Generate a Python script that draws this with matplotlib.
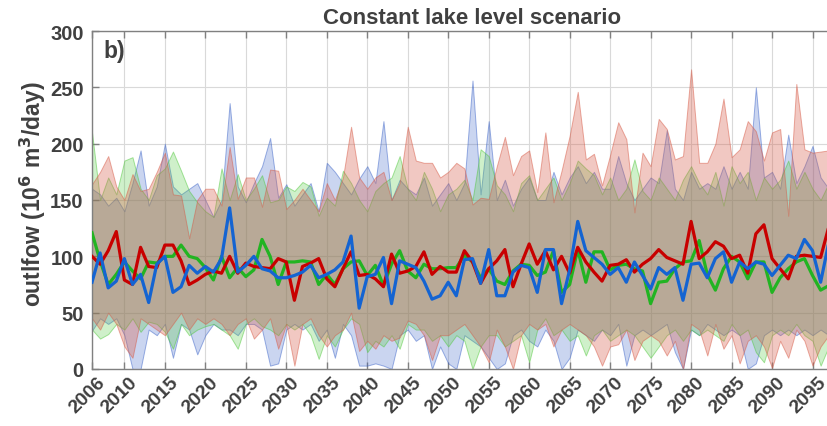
import numpy as np
import matplotlib.pyplot as plt
import matplotlib.transforms as mtransforms

years = np.arange(2006, 2101)

# ensemble means (10^6 m3/day)
red_mean = [100, 93, 105, 122, 79, 75, 108, 91, 90, 110,
            110, 96, 75, 79, 84, 87, 85, 100, 85, 94,
            91, 90, 89, 98, 95, 61, 91, 94, 98, 80,
            73, 89, 104, 83, 84, 80, 73, 102, 85, 87,
            91, 104, 84, 91, 86, 86, 105, 95, 76, 89,
            96, 106, 73, 93, 111, 93, 105, 88, 100, 85,
            108, 95, 86, 78, 92, 93, 97, 86, 93, 98,
            106, 99, 96, 93, 131, 98, 104, 113, 109, 98,
            101, 85, 120, 128, 98, 89, 80, 100, 101, 100,
            99, 126, 108, 100, 104]
green_mean = [121, 96, 75, 84, 95, 87, 80, 95, 94, 100,
              100, 110, 100, 98, 90, 79, 100, 81, 90, 82,
              88, 115, 100, 75, 95, 95, 96, 95, 75, 84,
              75, 89, 95, 96, 83, 92, 74, 93, 105, 87,
              81, 93, 89, 89, 90, 90, 101, 95, 81, 89,
              78, 75, 87, 93, 92, 83, 86, 105, 68, 75,
              106, 77, 104, 104, 88, 92, 93, 89, 87, 58,
              77, 78, 89, 95, 96, 114, 84, 70, 89, 100,
              95, 80, 95, 95, 68, 81, 89, 95, 98, 83,
              70, 74, 88, 92, 85]
blue_mean = [77, 103, 72, 78, 98, 75, 84, 59, 93, 100,
             68, 73, 92, 85, 91, 86, 98, 143, 86, 92,
             100, 89, 87, 81, 81, 83, 86, 92, 81, 84,
             88, 95, 118, 54, 82, 84, 99, 58, 96, 93,
             90, 78, 62, 65, 77, 65, 97, 98, 76, 106,
             65, 65, 86, 92, 90, 68, 106, 106, 58, 88,
             131, 105, 99, 93, 84, 90, 77, 95, 83, 71,
             90, 84, 90, 61, 93, 94, 81, 98, 104, 77,
             95, 89, 95, 93, 83, 92, 101, 98, 115, 105,
             77, 112, 98, 90, 95]

# ensemble ranges
red_hi = [164, 175, 189, 162, 150, 173, 158, 160, 175, 192,
          155, 154, 116, 150, 160, 160, 145, 197, 151, 170,
          170, 144, 177, 176, 142, 150, 160, 150, 140, 165,
          150, 170, 215, 170, 160, 170, 175, 150, 165, 215,
          185, 183, 183, 170, 175, 183, 178, 146, 152, 151,
          180, 206, 172, 189, 194, 157, 210, 148, 176, 207,
          246, 186, 191, 163, 190, 219, 204, 139, 192, 180,
          222, 213, 186, 189, 266, 183, 183, 200, 240, 188,
          195, 220, 211, 185, 210, 213, 136, 253, 195, 192,
          193, 194, 190, 192, 195]
red_lo = [45, 35, 50, 40, 20, 10, 45, 40, 35, 30,
          40, 50, 35, 45, 40, 45, 40, 30, 40, 45,
          27, 35, 45, 18, 40, 3, 40, 45, 30, 20,
          30, 35, 50, 16, 25, 18, 30, 25, 28, 43,
          40, 30, 8, 30, 30, 35, 40, 30, 20, 6,
          35, 20, 0, 30, 40, 35, 40, 20, 35, 40,
          35, 30, 20, 3, 20, 22, 35, 8, 25, 30,
          25, 12, 25, 0, 40, 35, 12, 40, 18, 30,
          5, 25, 30, 20, 1, 25, 10, 35, 25, 3,
          20, 30, 25, 20, 30]
green_hi = [210, 150, 170, 155, 185, 188, 160, 150, 172, 178,
            193, 176, 158, 148, 140, 135, 178, 150, 173, 150,
            160, 172, 148, 150, 162, 158, 166, 162, 136, 152,
            145, 176, 165, 150, 140, 158, 165, 170, 189, 160,
            150, 175, 160, 140, 155, 160, 168, 150, 195, 189,
            163, 155, 140, 165, 172, 150, 160, 170, 150, 165,
            185, 178, 172, 155, 170, 150, 160, 186, 158, 150,
            170, 160, 150, 168, 180, 165, 155, 175, 145, 180,
            165, 175, 150, 170, 160, 168, 185, 160, 175, 160,
            150, 165, 170, 160, 160]
green_lo = [35, 27, 31, 40, 35, 45, 33, 42, 40, 33,
            18, 40, 30, 35, 38, 40, 35, 30, 18, 40,
            45, 38, 35, 30, 40, 35, 40, 30, 9, 30,
            20, 35, 45, 40, 15, 25, 20, 30, 18, 40,
            35, 35, 25, 30, 20, 30, 25, 0, 20, 30,
            30, 20, 25, 30, 6, 35, 45, 30, 35, 25,
            30, 12, 30, 35, 25, 30, 35, 30, 20, 10,
            20, 30, 35, 25, 35, 30, 35, 30, 25, 40,
            30, 35, 15, 6, 30, 35, 30, 40, 30, 25,
            3, 20, 30, 25, 30]
blue_hi = [160, 155, 145, 152, 140, 165, 194, 145, 162, 200,
           162, 155, 160, 165, 150, 135, 150, 236, 162, 148,
           165, 180, 205, 152, 164, 145, 155, 165, 140, 183,
           175, 165, 155, 169, 180, 165, 220, 150, 168, 160,
           155, 170, 145, 155, 165, 150, 165, 256, 155, 220,
           150, 168, 145, 160, 170, 150, 150, 175, 155, 170,
           180, 165, 175, 160, 160, 189, 165, 150, 160, 170,
           165, 212, 160, 150, 175, 160, 165, 160, 180, 160,
           175, 160, 250, 170, 175, 160, 208, 165, 180, 198,
           170, 160, 170, 160, 160]
blue_lo = [34, 45, 40, 45, 30, 0, 0, 35, 30, 40,
           10, 40, 35, 13, 30, 40, 35, 35, 30, 40,
           40, 35, 3, 5, 35, 40, 35, 40, 25, 35,
           10, 40, 30, 3, 3, 5, 3, 0, 30, 35,
           25, 30, 0, 20, 5, 0, 30, 25, 20, 10,
           0, 5, 30, 35, 25, 20, 35, 25, 0, 10,
           35, 30, 25, 35, 30, 40, 3, 30, 35, 30,
           35, 40, 15, 0, 35, 30, 40, 35, 30, 35,
           30, 0, 5, 30, 35, 30, 35, 30, 35, 30,
           35, 30, 25, 30, 30]

xticks = [2006] + list(range(2010, 2101, 5))
xlabels = [str(y) for y in xticks[:-1]] + ['']

plt.rcParams['font.family'] = ['Liberation Sans', 'DejaVu Sans']
plt.rcParams['font.weight'] = 'bold'
plt.rcParams['mathtext.default'] = 'bf'
txt = '#404040'

fig = plt.figure(figsize=(8.28, 4.27), dpi=100)
ax = fig.add_axes([92 / 828, 57 / 427, 761 / 828, 338 / 427])

# translucent ranges: blue first, red on top
bands = [
    (blue_lo, blue_hi, (60 / 255, 100 / 255, 200 / 255), 0.27),
    (green_lo, green_hi, (80 / 255, 200 / 255, 60 / 255), 0.27),
    (red_lo, red_hi, (215 / 255, 90 / 255, 70 / 255), 0.33),
]
for lo, hi, c, a in bands:
    ax.fill_between(years, lo, hi, facecolor=(*c, a),
                    edgecolor=(*c, 0.5), linewidth=0.7, zorder=2)

ax.plot(years, green_mean, color='#22b422', lw=2.3, zorder=3)
ax.plot(years, red_mean, color='#c80000', lw=2.3, zorder=3)
ax.plot(years, blue_mean, color='#1464d2', lw=2.3, zorder=3)

ax.set_xlim(2006, 2100)
ax.set_ylim(0, 300)
ax.set_xticks(xticks)
ax.set_xticklabels(xlabels)
ax.set_yticks(range(0, 301, 50))
ax.grid(True, color='#d9d9d9', lw=0.8, zorder=0)
ax.set_axisbelow(True)

ax.tick_params(direction='in', length=5, width=1, color='#808080',
               labelcolor=txt, labelsize=14.5, top=True, right=True)
ax.tick_params(axis='x', labelsize=14, pad=3)
ax.tick_params(axis='y', pad=6)
shift = mtransforms.ScaledTranslation(-0.045, 0, fig.dpi_scale_trans)
for lab in ax.get_xticklabels():
    lab.set_rotation(45)
    lab.set_ha('center')
    lab.set_fontweight('bold')
    lab.set_transform(lab.get_transform() + shift)
for lab in ax.get_yticklabels():
    lab.set_fontweight('bold')
for s in ax.spines.values():
    s.set_color('#808080')
    s.set_linewidth(1)

ax.set_ylabel('outlfow (10$^6$ m$^3$/day)', fontsize=16.5, color=txt,
              fontweight='bold')
ax.yaxis.set_label_coords(-0.058, 0.52)
ax.set_title('Constant lake level scenario', fontsize=16, color=txt,
             fontweight='bold', pad=6)
ax.text(0.0145, 0.975, 'b)', transform=ax.transAxes, fontsize=16.5,
        fontweight='bold', color=txt, va='top', ha='left')

fig.savefig('out.png', dpi=100)
